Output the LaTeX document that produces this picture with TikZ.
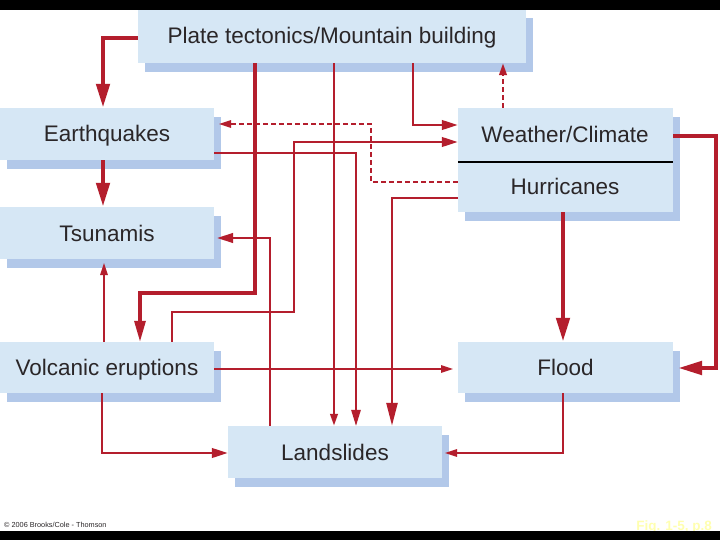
\documentclass[tikz,border=0pt]{standalone}
\usepackage{fontspec}
\setmainfont{Liberation Sans}
\usetikzlibrary{arrows.meta,shadows}
\definecolor{boxfill}{HTML}{D6E7F5}
\definecolor{shadowblue}{HTML}{B2C8E9}
\definecolor{linkred}{HTML}{B41E2D}
\definecolor{txt}{HTML}{2A2628}
\definecolor{figyellow}{HTML}{FFFFB0}
\begin{document}
\begin{tikzpicture}[x=1pt,y=-1pt,
  box/.style={fill=boxfill, draw=none, inner sep=0pt, font=\fontsize{22.5}{26}\selectfont, text=txt,
    text height=16pt, text depth=0pt,
    general shadow={fill=shadowblue, shadow xshift=7pt, shadow yshift=-9pt}},
  lbl/.style={inner sep=0pt, font=\fontsize{22.5}{26}\selectfont, text=txt, text height=16pt, text depth=0pt},
  link/.style={draw=linkred, line join=miter},
  wvthick/.style={link, line width=4.6pt},
  wthick/.style={link, line width=3.2pt},
  wmed/.style={link, line width=2.5pt},
  wthin/.style={link, line width=1.4pt},
  tipA/.style={-{Triangle[length=24pt,width=13pt]}},
  tipB/.style={-{Triangle[length=21pt,width=11pt]}},
  tipC/.style={-{Triangle[length=16pt,width=9.5pt]}},
  tipD/.style={-{Triangle[length=12pt,width=7.5pt]}}
]
\useasboundingbox (0,0) rectangle (720,540);
\fill[white] (0,0) rectangle (720,540);

% boxes
\node[box, minimum width=388pt, minimum height=54pt] (pt) at (332,36) {Plate tectonics/Mountain building};
\node[box, minimum width=214pt, minimum height=52pt] (eq) at (107,134) {Earthquakes};
\node[box, minimum width=214pt, minimum height=52pt] (ts) at (107,233) {Tsunamis};
\node[box, minimum width=214pt, minimum height=51pt] (vo) at (107,367.5) {Volcanic eruptions};
\node[box, minimum width=214pt, minimum height=52pt] (la) at (335,452) {Landslides};
\node[box, minimum width=215pt, minimum height=51pt] (fl) at (565.5,367.5) {Flood};
\node[box, minimum width=215pt, minimum height=104pt] (we) at (565.5,160) {};
\node[lbl] (wetxt) at (565,135) {Weather/Climate};
\node[lbl] (hutxt) at (565,187) {Hurricanes};
\draw[black, line width=1.3pt] (we.west |- 0,162) -- (we.east |- 0,162);

% named free ends
\coordinate (eqsh) at (219,124);
\coordinate (tssh) at (217,238);
\coordinate (flsh) at (678,368);
\coordinate (lash) at (445,453);

% connectors
\draw[wvthick, tipA] (pt.west |- 0,38) -| (103,0 |- eq.north);
\draw[wvthick, tipA] (103,0 |- eq.south) -- (103,0 |- ts.north);
\draw[wthin, tipD] (104,0 |- vo.north) -- (104,263);
\draw[wthick, tipB] (255,0 |- pt.south) |- (140,293) -- (140,0 |- vo.north);
\draw[wmed, tipD] (334,0 |- pt.south) -- (334,0 |- la.north);
\draw[wmed, tipC] (413,0 |- pt.south) |- (we.west |- 0,125);
\draw[wmed, dashed, dash pattern=on 5pt off 3pt, tipD] (503,0 |- we.north) -- (503,0 |- pt.south);
\draw[wthin, tipC] (eq.east |- 0,153) -| (356,0 |- la.north);
\draw[wmed, tipC] (172,0 |- vo.north) |- (294,312) |- (we.west |- 0,142);
\draw[wthin, dashed, dash pattern=on 5pt off 3pt, tipD] (we.west |- 0,182) -| (371,124) -- (eqsh);
\draw[wmed, -{Triangle[length=23pt,width=11pt]}] (we.west |- 0,198) -| (392,0 |- la.north);
\draw[wmed, tipC] (270,0 |- la.north) |- (tssh);
\draw[wthin, tipD] (vo.east |- 0,369) -- (453,369);
\draw[wmed, tipC] (102,0 |- vo.south) |- (la.west |- 0,453);
\draw[wvthick, tipA] (563,0 |- we.south) -- (563,0 |- fl.north);
\draw[wvthick, tipA] (we.east |- 0,136) -| (716,368) -- (flsh);
\draw[wthin, tipD] (563,0 |- fl.south) |- (lash);

% captions
\node[anchor=west, inner sep=0pt, font=\fontsize{7.3}{8}\selectfont, text=txt] (copy) at (4,524.5) {© 2006 Brooks/Cole - Thomson};
\node[anchor=east, inner sep=0pt, font=\bfseries\fontsize{13.5}{15}\selectfont, text=figyellow] (fig) at (712,527) {Fig. 1-5, p.8};

% black bars
\fill[black] (0,0) rectangle (720,10);
\fill[black] (0,531) rectangle (720,540);
\end{tikzpicture}
\end{document}
